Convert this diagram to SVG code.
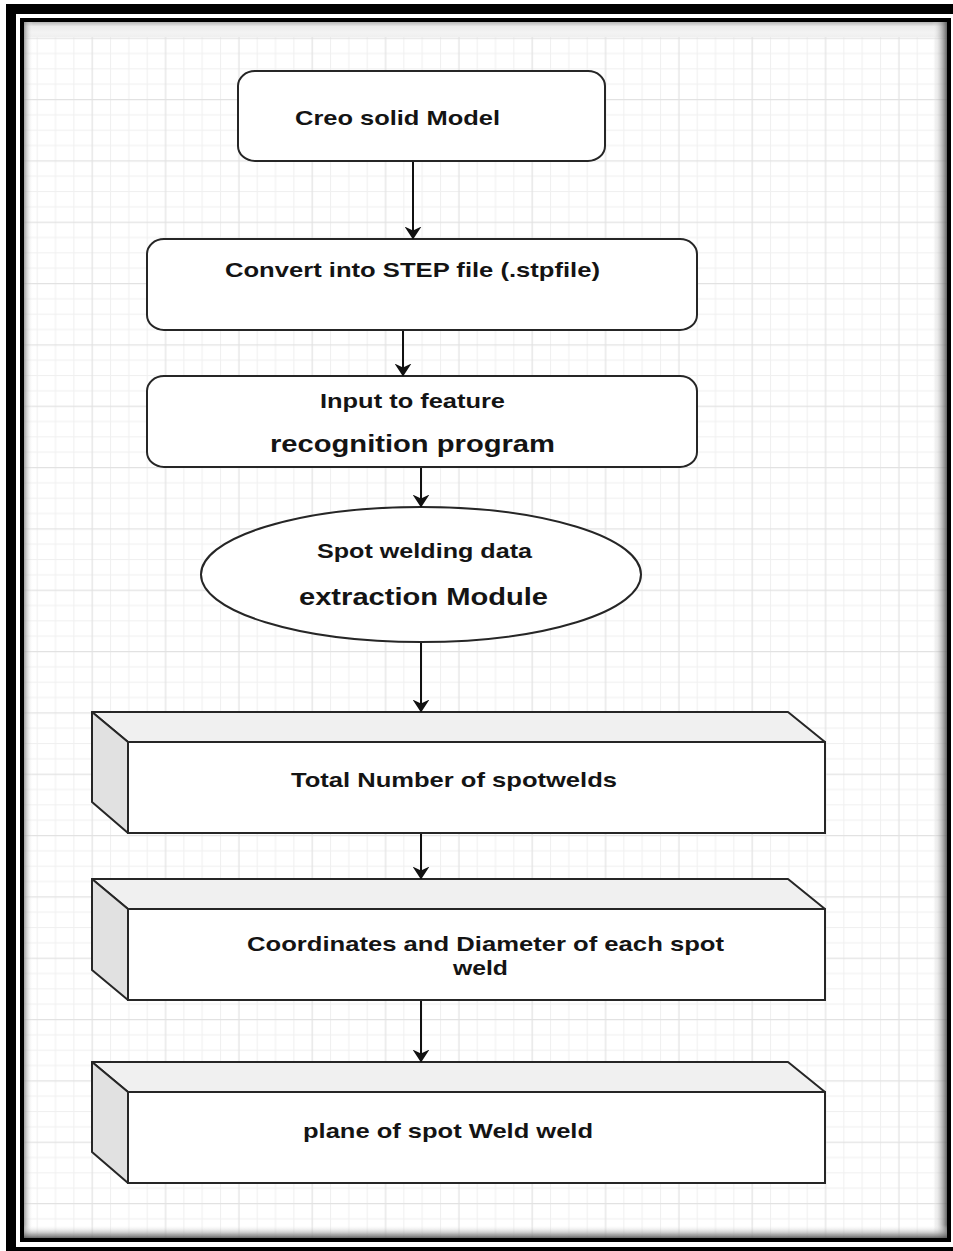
<svg xmlns="http://www.w3.org/2000/svg" width="953" height="1251" viewBox="0 0 953 1251">
<style>
.shape{fill:#fff;stroke:#262626;stroke-width:2}
.topf{fill:#f0f0f0;stroke:#262626;stroke-width:2;stroke-linejoin:round}
.leftf{fill:#e1e1e1;stroke:#262626;stroke-width:2;stroke-linejoin:round}
.t{font-family:"Liberation Sans",Arial,sans-serif;font-weight:bold;font-size:21px;fill:#141414}
.tb{font-size:24px}
.conn line{stroke:#111;stroke-width:2;marker-end:url(#arrow)}
</style>
<defs>
<pattern id="grid" patternUnits="userSpaceOnUse" x="36.667" y="37.667" width="73.333" height="61.333">
<rect width="73.333" height="61.333" fill="#fff"/>
<g fill="#f0f0f0">
<rect x="0" y="0" width="1" height="61.333"/>
<rect x="18.333" y="0" width="1" height="61.333"/>
<rect x="36.667" y="0" width="1" height="61.333"/>
<rect x="0" y="15.333" width="73.333" height="1"/>
<rect x="0" y="30.667" width="73.333" height="1"/>
<rect x="0" y="46" width="73.333" height="1"/>
</g>
<g fill="#e2e2e2">
<rect x="55" y="0" width="1.2" height="61.333"/>
<rect x="0" y="0" width="73.333" height="1.2"/>
</g>
</pattern>
<linearGradient id="shL" x1="0" y1="0" x2="1" y2="0">
<stop offset="0" stop-color="#888" stop-opacity="0.8"/>
<stop offset="1" stop-color="#fff" stop-opacity="0"/>
</linearGradient>
<linearGradient id="shR" x1="0" y1="0" x2="1" y2="0">
<stop offset="0" stop-color="#fff" stop-opacity="0"/>
<stop offset="1" stop-color="#555" stop-opacity="0.9"/>
</linearGradient>
<linearGradient id="shB" x1="0" y1="0" x2="0" y2="1">
<stop offset="0" stop-color="#fff" stop-opacity="0"/>
<stop offset="1" stop-color="#555" stop-opacity="0.9"/>
</linearGradient>
<linearGradient id="shT" x1="0" y1="0" x2="0" y2="1">
<stop offset="0" stop-color="#b5b5b5"/>
<stop offset="0.3" stop-color="#ebebeb"/>
<stop offset="0.7" stop-color="#f3f3f3"/>
<stop offset="1" stop-color="#efefef"/>
</linearGradient>
<marker id="arrow" viewBox="0 0 13 17" markerWidth="13" markerHeight="17" refX="12.5" refY="8.5" orient="auto" markerUnits="userSpaceOnUse">
<path d="M0,0 L13,8.5 L0,17 L4,8.5 Z" fill="#111"/>
</marker>
</defs>

<g id="frame">
<rect x="0" y="0" width="953" height="1251" fill="#fff"/>
<rect x="6" y="4" width="947" height="1247" fill="#000"/>
<rect x="16" y="14" width="937" height="1233" fill="#fff"/>
<rect x="24" y="22" width="923" height="1216" fill="url(#grid)"/>
<rect x="24" y="22" width="923" height="15" fill="url(#shT)"/>
<rect x="24" y="22" width="9" height="1216" fill="url(#shL)"/>
<rect x="932" y="22" width="15" height="1216" fill="url(#shR)"/>
<rect x="24" y="1225" width="923" height="13" fill="url(#shB)"/>
<rect x="22" y="20" width="927" height="1220" fill="none" stroke="#000" stroke-width="4"/>
</g>

<g id="n1">
<rect class="shape" x="238" y="71" width="367" height="90" rx="17" ry="15"/>
<text class="t" x="397.5" y="125" text-anchor="middle" textLength="205" lengthAdjust="spacingAndGlyphs">Creo solid Model</text>
</g>

<g id="n2">
<rect class="shape" x="147" y="239" width="550" height="91" rx="17" ry="15"/>
<text class="t" x="412.5" y="277" text-anchor="middle" textLength="375" lengthAdjust="spacingAndGlyphs">Convert into STEP file (.stpfile)</text>
</g>

<g id="n3">
<rect class="shape" x="147" y="376" width="550" height="91" rx="17" ry="15"/>
<text class="t" x="412.5" y="408" text-anchor="middle" textLength="185" lengthAdjust="spacingAndGlyphs">Input to feature</text>
<text class="t tb" x="412.5" y="452" text-anchor="middle" textLength="285" lengthAdjust="spacingAndGlyphs">recognition program</text>
</g>

<g id="n4">
<ellipse class="shape" cx="421" cy="574.5" rx="220" ry="67.5"/>
<text class="t" x="424.5" y="558" text-anchor="middle" textLength="215" lengthAdjust="spacingAndGlyphs">Spot welding data</text>
<text class="t tb" x="423.5" y="605" text-anchor="middle" textLength="249" lengthAdjust="spacingAndGlyphs">extraction Module</text>
</g>

<g id="n5">
<path class="topf" d="M92,712 L788,712 L825,742 L128,742 Z"/>
<path class="leftf" d="M92,712 L128,742 L128,833 L92,802 Z"/>
<rect class="shape" x="128" y="742" width="697" height="91"/>
<text class="t" x="454" y="787" text-anchor="middle" textLength="326" lengthAdjust="spacingAndGlyphs">Total Number of spotwelds</text>
</g>

<g id="n6">
<path class="topf" d="M92,879 L788,879 L825,909 L128,909 Z"/>
<path class="leftf" d="M92,879 L128,909 L128,1000 L92,970 Z"/>
<rect class="shape" x="128" y="909" width="697" height="91"/>
<text class="t" x="485.5" y="951" text-anchor="middle" textLength="477" lengthAdjust="spacingAndGlyphs">Coordinates and Diameter of each spot</text>
<text class="t" x="480.5" y="975" text-anchor="middle" textLength="55" lengthAdjust="spacingAndGlyphs">weld</text>
</g>

<g id="n7">
<path class="topf" d="M92,1062 L788,1062 L825,1092 L128,1092 Z"/>
<path class="leftf" d="M92,1062 L128,1092 L128,1183 L92,1152 Z"/>
<rect class="shape" x="128" y="1092" width="697" height="91"/>
<text class="t" x="448" y="1138" text-anchor="middle" textLength="290" lengthAdjust="spacingAndGlyphs">plane of spot Weld weld</text>
</g>

<g id="connectors" class="conn">
<line x1="413" y1="162" x2="413" y2="239"/>
<line x1="403" y1="331" x2="403" y2="376"/>
<line x1="421" y1="468" x2="421" y2="507"/>
<line x1="421" y1="643" x2="421" y2="712"/>
<line x1="421" y1="834" x2="421" y2="879"/>
<line x1="421" y1="1001" x2="421" y2="1062"/>
</g>
</svg>
